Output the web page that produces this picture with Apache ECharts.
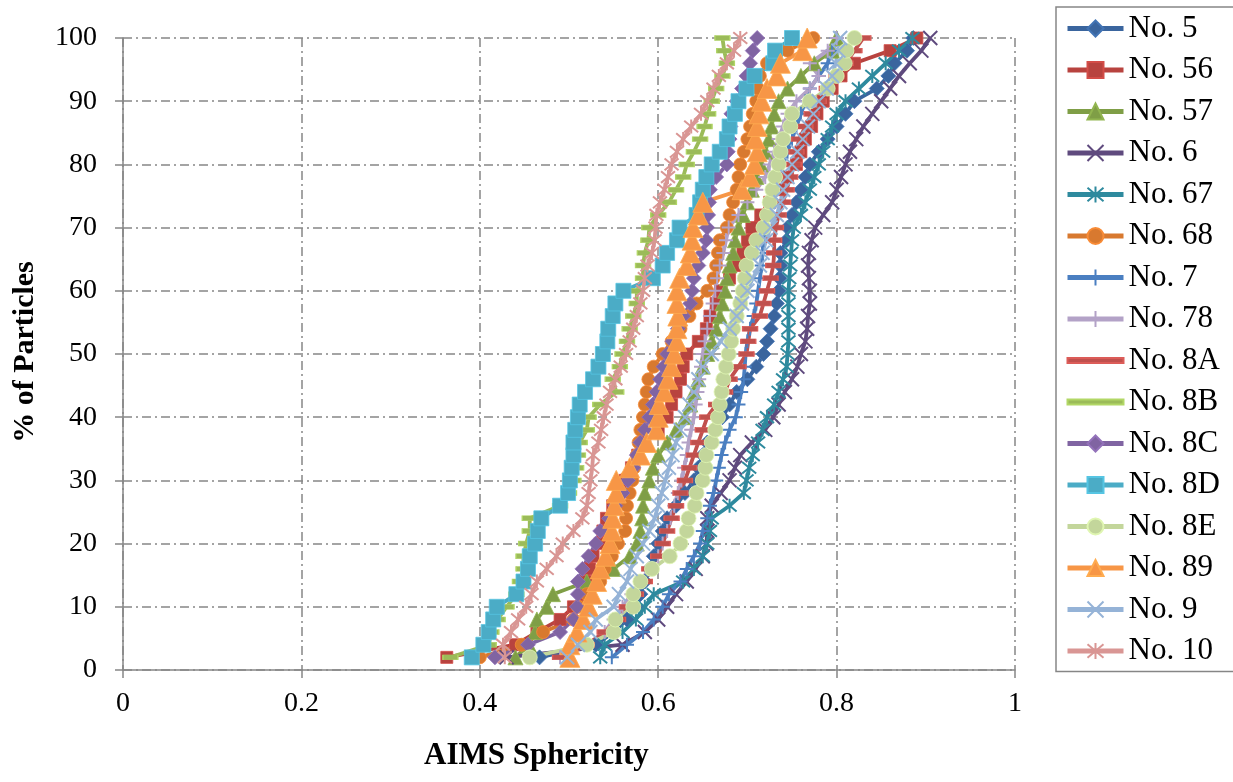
<!DOCTYPE html>
<html><head><meta charset="utf-8">
<script src="https://cdn.jsdelivr.net/npm/echarts@6/dist/echarts.min.js"></script>
<style>html,body{margin:0;padding:0;background:#fff}#c{width:1233px;height:782px}</style>
</head><body><div id="c"></div>
<script>
// cumulative % levels (y values)
const yLevels = [2,4,6,8,10,12,14,16,18,20,22,24,26,28,30,32,34,36,38,40,42,44,46,48,50,52,54,56,58,60,62,64,66,68,70,72,74,76,78,80,82,84,86,88,90,92,94,96,98,100];
const xTicks = [0,0.2,0.4,0.6,0.8,1];
const yTicks = [0,10,20,30,40,50,60,70,80,90,100];
const seriesNames = ["No. 5","No. 56","No. 57","No. 6","No. 67","No. 68","No. 7","No. 78","No. 8A","No. 8B","No. 8C","No. 8D","No. 8E","No. 89","No. 9","No. 10"];

// AIMS sphericity values (x), one per y level
const s5  = [0.467,0.53,0.55,0.565,0.575,0.58,0.585,0.59,0.595,0.6,0.605,0.61,0.62,0.63,0.64,0.645,0.65,0.655,0.665,0.672,0.68,0.688,0.7,0.71,0.718,0.722,0.726,0.73,0.733,0.735,0.736,0.737,0.737,0.744,0.745,0.75,0.755,0.76,0.765,0.77,0.78,0.79,0.8,0.81,0.82,0.845,0.858,0.865,0.879,0.886];
const s56 = [0.363,0.44,0.464,0.49,0.505,0.516,0.52,0.523,0.527,0.535,0.538,0.542,0.549,0.556,0.563,0.57,0.577,0.585,0.6,0.61,0.615,0.62,0.625,0.628,0.632,0.645,0.654,0.658,0.665,0.67,0.68,0.69,0.695,0.7,0.705,0.715,0.725,0.735,0.745,0.755,0.76,0.765,0.772,0.778,0.785,0.795,0.805,0.82,0.86,0.89];
const s57 = [0.44,0.455,0.462,0.464,0.475,0.482,0.52,0.55,0.568,0.576,0.58,0.582,0.583,0.585,0.59,0.594,0.6,0.61,0.62,0.63,0.636,0.64,0.645,0.65,0.655,0.66,0.665,0.669,0.672,0.675,0.677,0.68,0.684,0.686,0.69,0.695,0.7,0.705,0.71,0.715,0.72,0.724,0.727,0.73,0.735,0.745,0.76,0.775,0.795,0.8];
const s6  = [0.43,0.56,0.585,0.6,0.61,0.62,0.632,0.642,0.65,0.654,0.655,0.655,0.66,0.67,0.68,0.686,0.692,0.705,0.72,0.729,0.735,0.742,0.75,0.756,0.76,0.765,0.767,0.768,0.77,0.77,0.769,0.768,0.769,0.772,0.776,0.785,0.795,0.8,0.805,0.81,0.815,0.822,0.83,0.84,0.85,0.86,0.87,0.882,0.895,0.905];
const s67 = [0.535,0.54,0.56,0.575,0.585,0.595,0.628,0.64,0.65,0.655,0.658,0.66,0.68,0.696,0.699,0.702,0.706,0.712,0.717,0.722,0.73,0.735,0.74,0.744,0.745,0.746,0.746,0.746,0.746,0.746,0.747,0.748,0.749,0.75,0.752,0.76,0.765,0.77,0.775,0.78,0.785,0.79,0.795,0.8,0.81,0.825,0.84,0.855,0.87,0.885];
const s68 = [0.4,0.447,0.471,0.505,0.51,0.52,0.535,0.54,0.548,0.555,0.563,0.564,0.565,0.568,0.571,0.573,0.576,0.578,0.58,0.583,0.585,0.587,0.589,0.595,0.605,0.615,0.625,0.635,0.643,0.655,0.662,0.665,0.667,0.669,0.677,0.68,0.684,0.688,0.69,0.692,0.696,0.7,0.703,0.706,0.71,0.712,0.714,0.722,0.745,0.774];
const s7  = [0.548,0.565,0.583,0.595,0.605,0.612,0.625,0.632,0.64,0.647,0.65,0.655,0.658,0.662,0.665,0.668,0.671,0.675,0.68,0.687,0.69,0.693,0.696,0.697,0.698,0.7,0.703,0.707,0.71,0.712,0.714,0.716,0.717,0.718,0.72,0.722,0.725,0.728,0.733,0.74,0.745,0.75,0.755,0.76,0.765,0.77,0.78,0.79,0.795,0.8];
const s78 = [0.49,0.52,0.54,0.55,0.56,0.57,0.58,0.59,0.6,0.605,0.61,0.614,0.618,0.622,0.626,0.629,0.632,0.634,0.637,0.64,0.642,0.644,0.646,0.648,0.65,0.652,0.655,0.658,0.661,0.664,0.666,0.669,0.673,0.676,0.679,0.69,0.7,0.71,0.72,0.725,0.73,0.735,0.74,0.745,0.755,0.77,0.78,0.77,0.79,0.8];
const s8A = [0.49,0.52,0.54,0.555,0.565,0.575,0.585,0.59,0.6,0.605,0.61,0.615,0.62,0.625,0.63,0.635,0.64,0.645,0.65,0.655,0.665,0.675,0.68,0.69,0.699,0.701,0.703,0.714,0.718,0.722,0.726,0.729,0.73,0.73,0.732,0.735,0.74,0.744,0.748,0.752,0.755,0.758,0.765,0.772,0.78,0.789,0.8,0.81,0.82,0.83];
const s8B = [0.367,0.41,0.413,0.42,0.43,0.441,0.445,0.449,0.449,0.452,0.456,0.456,0.49,0.5,0.505,0.508,0.51,0.512,0.52,0.522,0.535,0.553,0.549,0.557,0.56,0.565,0.568,0.572,0.576,0.576,0.583,0.583,0.585,0.589,0.59,0.6,0.612,0.62,0.628,0.632,0.64,0.647,0.652,0.656,0.66,0.665,0.672,0.677,0.674,0.672];
const s8C = [0.417,0.454,0.49,0.505,0.509,0.51,0.51,0.515,0.522,0.53,0.535,0.545,0.552,0.56,0.566,0.572,0.576,0.58,0.585,0.59,0.594,0.598,0.602,0.606,0.61,0.616,0.622,0.628,0.636,0.638,0.64,0.645,0.65,0.654,0.655,0.656,0.657,0.658,0.665,0.677,0.678,0.68,0.681,0.682,0.688,0.694,0.699,0.703,0.706,0.711];
const s8D = [0.391,0.404,0.41,0.415,0.419,0.441,0.449,0.454,0.456,0.462,0.465,0.469,0.49,0.499,0.501,0.503,0.505,0.505,0.507,0.51,0.512,0.518,0.527,0.533,0.538,0.543,0.544,0.549,0.552,0.561,0.594,0.605,0.61,0.621,0.624,0.643,0.647,0.65,0.654,0.66,0.669,0.677,0.68,0.686,0.69,0.699,0.708,0.729,0.731,0.75];
const s8E = [0.456,0.52,0.55,0.552,0.572,0.572,0.58,0.593,0.613,0.625,0.632,0.634,0.641,0.643,0.65,0.653,0.654,0.66,0.664,0.667,0.669,0.671,0.673,0.676,0.679,0.682,0.684,0.688,0.692,0.695,0.697,0.699,0.705,0.71,0.718,0.722,0.725,0.728,0.731,0.735,0.737,0.74,0.748,0.75,0.77,0.79,0.8,0.809,0.811,0.82];
const s89 = [0.501,0.501,0.509,0.516,0.522,0.526,0.531,0.535,0.541,0.546,0.548,0.549,0.551,0.553,0.553,0.568,0.58,0.587,0.598,0.6,0.601,0.607,0.611,0.615,0.618,0.621,0.621,0.622,0.621,0.621,0.624,0.632,0.636,0.638,0.639,0.645,0.65,0.694,0.703,0.708,0.711,0.709,0.711,0.713,0.716,0.722,0.733,0.737,0.762,0.767];
const s9  = [0.498,0.51,0.524,0.53,0.55,0.556,0.565,0.569,0.576,0.583,0.59,0.596,0.6,0.604,0.608,0.612,0.616,0.62,0.625,0.63,0.635,0.64,0.645,0.65,0.66,0.67,0.68,0.688,0.694,0.7,0.706,0.714,0.717,0.721,0.726,0.733,0.737,0.74,0.745,0.75,0.756,0.762,0.768,0.774,0.78,0.789,0.795,0.799,0.802,0.804];
const s10 = [0.428,0.426,0.435,0.443,0.452,0.458,0.464,0.475,0.486,0.493,0.505,0.515,0.52,0.522,0.524,0.526,0.527,0.533,0.536,0.539,0.542,0.546,0.552,0.558,0.564,0.568,0.572,0.576,0.58,0.583,0.585,0.588,0.593,0.596,0.597,0.598,0.602,0.607,0.611,0.615,0.621,0.628,0.637,0.648,0.655,0.662,0.668,0.677,0.685,0.692];

const allX = [s5,s56,s57,s6,s67,s68,s7,s78,s8A,s8B,s8C,s8D,s8E,s89,s9,s10];

// styles
const colors = ['#3A659E','#B8433F','#7F9E46','#5F4A7E','#2E8A9E','#D8792F','#4A7FC1','#B3A2C7','#C0504D','#9BBB59','#8064A2','#4BACC6','#C3D69B','#F79646','#95B3D7','#D99694'];
const X = 'path://M0,0L10,10M10,0L0,10';
const AST = 'path://M0,0L10,10M10,0L0,10M5,-1L5,11';
const PLUS = 'path://M5,0L5,10M0,5L10,5';
const DASH = 'path://M0,0L10,0L10,3L0,3Z';
const BAR = 'path://M0,0L56,0L56,5L0,5Z';
const symbols = ['diamond','rect','triangle',X,AST,'circle',PLUS,PLUS,DASH,DASH,'diamond','rect','circle','triangle',X,AST];
const sizes = [15,12,15,14,14,13,14,14,[15,5],[15,5],15,15,15,20,14,14];
const stroked = [false,false,false,true,true,false,true,true,false,false,false,false,false,false,true,true];

const font = '"Liberation Serif","Times New Roman",serif';
const series = seriesNames.map((name,i)=>({
  name, type:'line',
  data: allX[i].map((x,k)=>[x, yLevels[k]]),
  symbol: symbols[i], symbolSize: sizes[i],
  showSymbol:true, animation:false, silent:true,
  lineStyle:{color:colors[i], width:3.8},
  itemStyle: stroked[i] ? {color:colors[i], borderColor:colors[i], borderWidth:2}
                        : {color:colors[i], borderColor:echarts.color.lift(colors[i],-0.15), borderWidth:0.8},
  emphasis:{disabled:true}
}));

const legendData = seriesNames.map((n,i)=> symbols[i]===DASH ? {name:n, icon:BAR} : {name:n});

const gridStyle = {show:true, lineStyle:{color:'#868686', width:1.5, type:[9,4,2,4]}};
const chart = echarts.init(document.getElementById('c'), null, {renderer:'canvas'});
chart.setOption({
  backgroundColor:'#fff',
  animation:false,
  grid:{left:123, right:218, top:38, bottom:112, containLabel:false},
  xAxis:{type:'value', min:xTicks[0], max:xTicks[xTicks.length-1], interval:0.2,
    axisLine:{show:true, lineStyle:{color:'#868686', width:1.5}},
    axisTick:{show:true, length:8, lineStyle:{color:'#868686', width:1.5}},
    axisLabel:{color:'#000', fontSize:28, fontFamily:font, margin:20},
    splitLine:gridStyle},
  yAxis:{type:'value', min:yTicks[0], max:yTicks[yTicks.length-1], interval:10,
    axisLine:{show:true, lineStyle:{color:'#868686', width:1.5}},
    axisTick:{show:true, length:8, lineStyle:{color:'#868686', width:1.5}},
    axisLabel:{color:'#000', fontSize:28, fontFamily:font, margin:26},
    splitLine:gridStyle},
  legend:{orient:'vertical', left:1056, top:7, itemWidth:56, itemHeight:20, itemGap:10.5,
    padding:[6,18,5,9], borderColor:'#868686', borderWidth:1.5, backgroundColor:'#fff',
    selectedMode:false, lineStyle:{width:5},
    textStyle:{color:'#000', fontSize:31, fontFamily:font},
    data:legendData},
  graphic:[
    {type:'text', left:424, top:740, style:{text:'AIMS Sphericity', font:'bold 31px '+font, fill:'#000'}},
    {type:'text', x:25, y:352, rotation:Math.PI/2, style:{text:'% of Particles', font:'bold 30px '+font, fill:'#000', align:'center', verticalAlign:'middle'}}
  ],
  series
});
</script>
</body></html>
